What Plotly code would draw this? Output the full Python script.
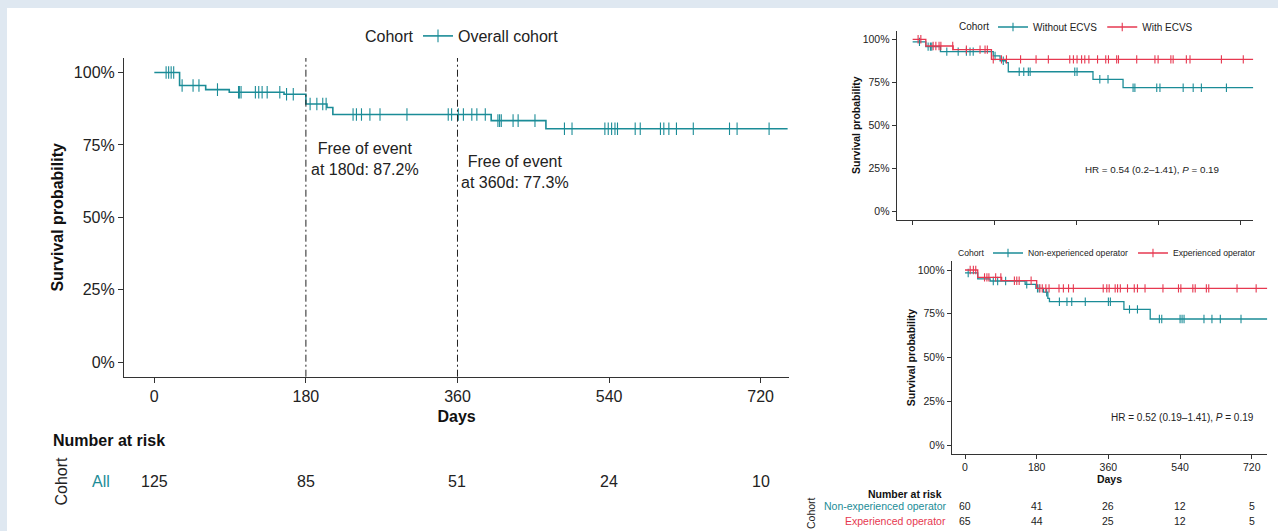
import numpy as np
import plotly.graph_objects as go

W, H = 1278, 531
FONT = "Liberation Sans, Arial, sans-serif"
TEAL = "#1B8C97"
RED = "#E63850"
INK = "#222222"
AXIS = "#333333"

# ---------------- data ----------------
risk_days = [0, 180, 360, 540, 720]

# Main panel: overall cohort
overall_times = [0, 30, 61, 89, 154, 180, 205, 212, 400, 465, 752]
overall_surv = [1.0, 0.955, 0.941, 0.932, 0.925, 0.891, 0.879, 0.855, 0.834, 0.806, 0.806]
overall_censor = [14, 17, 20, 23, 33, 46, 53, 75, 100, 101, 103, 120, 124, 128, 134, 149,
                  157, 165, 185, 193, 200, 204, 236, 240, 246, 256, 268, 300, 349, 353,
                  361, 367, 377, 383, 393, 408, 410, 412, 426, 432, 452, 487, 496, 535,
                  539, 543, 547, 550, 571, 577, 601, 605, 611, 620, 640, 683, 692, 730]
overall_risk = [125, 85, 51, 24, 10]

# Top-right panel: ECVS
no_ecvs_times = [0, 29, 61, 177, 192, 205, 210, 396, 462, 748]
no_ecvs_surv = [0.985, 0.957, 0.928, 0.903, 0.875, 0.864, 0.811, 0.767, 0.718, 0.718]
no_ecvs_censor = [15, 34, 39, 42, 75, 100, 118, 126, 133, 181, 199, 234, 244, 254, 258,
                  356, 361, 411, 429, 484, 488, 536, 543, 594, 616, 634, 689]
ecvs_times = [0, 29, 89, 173, 748]
ecvs_surv = [1.0, 0.961, 0.94, 0.883, 0.883]
ecvs_censor = [12, 18, 45, 51, 58, 62, 88, 118, 148, 159, 164, 177, 195, 206, 237, 271,
               298, 345, 353, 361, 371, 378, 387, 406, 424, 430, 448, 452, 492, 532, 539,
               567, 572, 601, 609, 678, 726]

# Bottom-right panel: operator experience
nonexp_times = [0, 32, 63, 151, 178, 197, 208, 212, 399, 465, 759]
nonexp_surv = [0.983, 0.949, 0.937, 0.918, 0.895, 0.873, 0.838, 0.819, 0.775, 0.72, 0.72]
nonexp_censor = [8, 71, 82, 102, 155, 182, 186, 205, 237, 256, 268, 302, 360, 365, 413,
                 433, 488, 494, 540, 545, 550, 600, 620, 641, 693]
exp_times = [0, 32, 92, 180, 759]
exp_surv = [1.0, 0.958, 0.939, 0.895, 0.895]
exp_censor = [13, 21, 27, 49, 55, 60, 77, 90, 124, 130, 136, 166, 188, 194, 203, 211, 236,
              247, 260, 272, 347, 356, 362, 377, 383, 390, 408, 425, 433, 452, 497, 536,
              542, 572, 578, 606, 612, 683, 731]
nonexp_risk = [60, 41, 26, 12, 5]
exp_risk = [65, 44, 25, 12, 5]

# ---------------- helpers ----------------
def px(v):
    return v / W

def py(v):
    return 1 - v / H

fig = go.Figure()

def add_km(times, surv, censor, color, name, xa, ya, legend, lw, ms):
    t = np.asarray(times, float)
    s = np.asarray(surv, float)
    c = np.asarray(censor, float)
    cy = s[np.searchsorted(t, c, side="right") - 1]
    fig.add_trace(go.Scatter(x=t, y=s, mode="lines", line=dict(color=color, width=lw, shape="hv"),
                             xaxis=xa, yaxis=ya, showlegend=False, hoverinfo="skip"))
    fig.add_trace(go.Scatter(x=c, y=cy, mode="markers",
                             marker=dict(symbol="line-ns-open", size=ms, color=color,
                                         line=dict(width=1.1, color=color)),
                             xaxis=xa, yaxis=ya, showlegend=False, hoverinfo="skip"))
    fig.add_trace(go.Scatter(x=[None], y=[None], mode="lines+markers", name=name,
                             line=dict(color=color, width=lw),
                             marker=dict(symbol="line-ns-open", size=ms, color=color,
                                         line=dict(width=1.1, color=color)),
                             xaxis=xa, yaxis=ya, legend=legend))

add_km(overall_times, overall_surv, overall_censor, TEAL, "Overall cohort", "x", "y", "legend", 1.6, 9)
add_km(no_ecvs_times, no_ecvs_surv, no_ecvs_censor, TEAL, "Without ECVS", "x2", "y2", "legend2", 1.3, 6)
add_km(ecvs_times, ecvs_surv, ecvs_censor, RED, "With ECVS", "x2", "y2", "legend2", 1.3, 6)
add_km(nonexp_times, nonexp_surv, nonexp_censor, TEAL, "Non-experienced operator", "x3", "y3", "legend3", 1.3, 6)
add_km(exp_times, exp_surv, exp_censor, RED, "Experienced operator", "x3", "y3", "legend3", 1.3, 6)

def axis_style(size, ticklen):
    return dict(showgrid=False, zeroline=False, showline=True, linecolor=AXIS, linewidth=1.1,
                ticks="outside", ticklen=ticklen, tickwidth=1, tickcolor=AXIS,
                tickfont=dict(family=FONT, size=size, color=INK))

fig.update_layout(
    xaxis=dict(domain=[px(124), px(789.3)], range=[-36, 754], anchor="y",
               tickvals=risk_days,
               title=dict(text="Days", standoff=6, font=dict(family=FONT, size=16, color="#111", weight="bold")),
               **axis_style(16, 5)),
    yaxis=dict(domain=[py(376.7), py(58)], range=[-0.05, 1.05], anchor="x",
               tickvals=[0, 0.25, 0.5, 0.75, 1], tickformat=".0%",
               title=dict(text="Survival probability", standoff=6, font=dict(family=FONT, size=16, color="#111", weight="bold")),
               **axis_style(16, 5)),
    xaxis2=dict(domain=[px(896.7), px(1253.3)], range=[-35, 748], anchor="y2",
                tickvals=risk_days, showticklabels=False, **axis_style(10.5, 4)),
    yaxis2=dict(domain=[py(219.6), py(30.7)], range=[-0.05, 1.05], anchor="x2",
                tickvals=[0, 0.25, 0.5, 0.75, 1], tickformat=".0%",
                title=dict(text="Survival probability", standoff=0, font=dict(family=FONT, size=10.5, color="#111", weight="bold")),
                **axis_style(10.5, 4)),
    xaxis3=dict(domain=[px(951.7), px(1267.3)], range=[-33.4, 759], anchor="y3",
                tickvals=risk_days,
                title=dict(text="Days", standoff=3, font=dict(family=FONT, size=10.5, color="#111", weight="bold")),
                **axis_style(10.5, 4)),
    yaxis3=dict(domain=[py(453.75), py(261.25)], range=[-0.05, 1.05], anchor="x3",
                tickvals=[0, 0.25, 0.5, 0.75, 1], tickformat=".0%",
                title=dict(text="Survival probability", standoff=0, font=dict(family=FONT, size=10.5, color="#111", weight="bold")),
                **axis_style(10.5, 4)),
)

def legend_style(xleft, yc, size):
    return dict(x=px(xleft), y=py(yc), xanchor="left", yanchor="middle", orientation="h",
                bgcolor="rgba(0,0,0,0)", font=dict(family=FONT, size=size, color=INK),
                tracegroupgap=0, itemwidth=30, borderwidth=0)

fig.update_layout(
    legend=legend_style(418, 36, 16),
    legend2=legend_style(993, 27, 10),
    legend3=legend_style(988, 253, 8.6),
)

shapes = [dict(type="rect", xref="paper", yref="paper", x0=px(7), x1=1, y0=0, y1=py(8),
               fillcolor="white", line=dict(width=0), layer="below")]
for d in [180, 360]:
    shapes.append(dict(type="line", xref="x", yref="y domain", x0=d, x1=d, y0=0, y1=1,
                       line=dict(color="#222", width=1, dash="7px,3px,2px,3px")))
fig.update_layout(shapes=shapes)

ann = []

def note(text, x, y, size, color=INK, xref="paper", yref="paper", xanchor="center", angle=0):
    ann.append(dict(text=text, x=x, y=y, xref=xref, yref=yref, xanchor=xanchor, yanchor="middle",
                    textangle=angle, showarrow=False, font=dict(family=FONT, size=size, color=color)))

# legend titles
note("Cohort", px(416), py(36), 16, xanchor="right")
note("Cohort", px(991), py(27), 10, xanchor="right")
note("Cohort", px(986), py(253), 8.6, xanchor="right")

note("Free of event<br>at 180d: 87.2%", 250, 0.70, 16, xref="x", yref="y")
note("Free of event<br>at 360d: 77.3%", 428, 0.657, 16, xref="x", yref="y")
note("HR = 0.54 (0.2–1.41), <i>P</i> = 0.19", 525, 0.239, 9.8, xref="x2", yref="y2")
note("HR = 0.52 (0.19–1.41), <i>P</i> = 0.19", 545, 0.156, 10, xref="x3", yref="y3")

# main risk table
note("<b>Number at risk</b>", px(51), py(440), 16, color="#111", xanchor="left")
note("Cohort", px(61), py(481.5), 16, angle=-90)
note("All", px(101), py(481), 16, color=TEAL)
for d, n in zip(risk_days, overall_risk):
    note(str(n), d, py(481), 16, xref="x")

# small risk table
note("<b>Number at risk</b>", px(944), py(494), 10.5, color="#111", xanchor="right")
note("Cohort", px(811), py(513), 10.5, angle=-90)
note("Non-experienced operator", px(948), py(506), 10.5, color=TEAL, xanchor="right")
note("Experienced operator", px(948), py(521), 10.5, color=RED, xanchor="right")
for d, n in zip(risk_days, nonexp_risk):
    note(str(n), d, py(506), 10.5, xref="x3")
for d, n in zip(risk_days, exp_risk):
    note(str(n), d, py(521), 10.5, xref="x3")
fig.update_layout(annotations=ann)

fig.update_layout(width=W, height=H, autosize=False, margin=dict(l=0, r=0, t=0, b=0),
                  paper_bgcolor="#dfe8f1", plot_bgcolor="white",
                  font=dict(family=FONT, color=INK))

fig.write_html("out.html", config={"displayModeBar": False},
               post_script="document.body.style.margin='0';document.body.style.overflow='hidden';")
